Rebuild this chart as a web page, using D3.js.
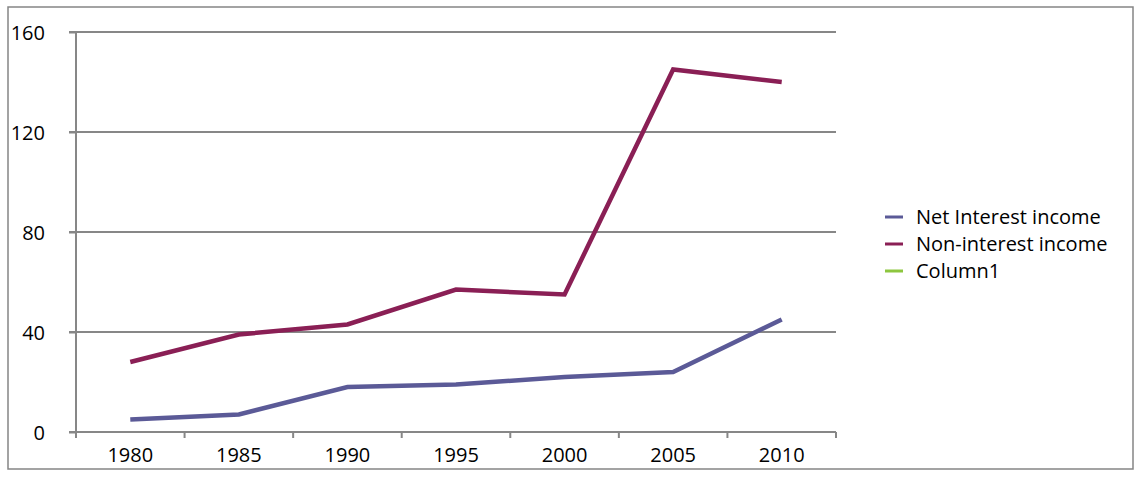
<!DOCTYPE html>
<html><head><meta charset="utf-8">
<script src="https://cdn.jsdelivr.net/npm/d3@7"></script>
<style>body{margin:0;background:#fff}svg{display:block}text{font-family:"Open Sans",sans-serif;fill:#000}</style>
</head><body>
<script>
const years = ["1980","1985","1990","1995","2000","2005","2010"];
const netInterest = [5, 7, 18, 19, 22, 24, 45];
const nonInterest = [28, 39, 43, 57, 55, 145, 140];
const column1 = [];
const yTicks = [0, 40, 80, 120, 160];
const seriesNames = ["Net Interest income", "Non-interest income", "Column1"];
const seriesColors = ["#5B5A97", "#8A1F55", "#8DC63F"];

(function () {
const W = 1139, H = 479;
const svg = d3.select("body").append("svg").attr("width", W).attr("height", H);
svg.append("rect").attr("x", 8).attr("y", 7).attr("width", 1125).attr("height", 462)
  .attr("fill", "#fff").attr("stroke", "#858585").attr("stroke-width", 1.5);

const pL = 76, pR = 836, pT = 32, pB = 432;
const x = d3.scaleBand().domain(years).range([pL, pR]);
const y = d3.scaleLinear().domain([0, 160]).range([pB, pT]);

// gridlines
svg.append("g").selectAll("line").data(yTicks.filter(d => d > 0)).join("line")
  .attr("x1", pL - 7).attr("x2", pR).attr("y1", d => y(d)).attr("y2", d => y(d))
  .attr("stroke", "#878787").attr("stroke-width", 2);

// y axis
const ya = svg.append("g").attr("transform", `translate(${pL},0)`)
  .call(d3.axisLeft(y).tickValues(yTicks).tickSize(7).tickPadding(24));
ya.select(".domain").attr("stroke", "#878787").attr("stroke-width", 2).attr("d", `M0,${pT}V${pB}`);
ya.selectAll(".tick line").attr("stroke", "#878787").attr("stroke-width", 2);
ya.selectAll(".tick text").attr("font-size", 20).attr("font-family", "Open Sans").attr("fill", "#000").attr("dy", "0.36em");

// x axis
const xa = svg.append("g").attr("transform", `translate(0,${pB})`)
  .call(d3.axisBottom(x).tickSize(0).tickPadding(16));
xa.select(".domain").attr("stroke", "#878787").attr("stroke-width", 2).attr("d", `M${pL - 7},0H${pR}`);
xa.selectAll(".tick text").attr("font-size", 20).attr("font-family", "Open Sans").attr("fill", "#000");
const bounds = years.map(d => x(d)).concat([x(years[years.length - 1]) + x.bandwidth()]);
svg.append("g").selectAll("line").data(bounds).join("line")
  .attr("x1", d => d).attr("x2", d => d).attr("y1", pB).attr("y2", pB + 6)
  .attr("stroke", "#878787").attr("stroke-width", 2);

// lines
const line = d3.line().x((d, i) => x(years[i]) + x.bandwidth() / 2).y(d => y(d));
[netInterest, nonInterest, column1].forEach((s, k) => {
  if (!s.length) return;
  svg.append("path").attr("d", line(s)).attr("fill", "none")
    .attr("stroke", seriesColors[k]).attr("stroke-width", 4.5).attr("stroke-linejoin", "miter");
});

// legend
const lg = svg.append("g");
seriesNames.forEach((n, i) => {
  const yy = 217 + i * 27;
  lg.append("line").attr("x1", 885).attr("x2", 903).attr("y1", yy).attr("y2", yy)
    .attr("stroke", seriesColors[i]).attr("stroke-width", 3);
  lg.append("text").attr("x", 916).attr("y", yy).attr("dy", "0.35em").attr("font-size", 20).text(n);
});
})();
</script>
</body></html>
